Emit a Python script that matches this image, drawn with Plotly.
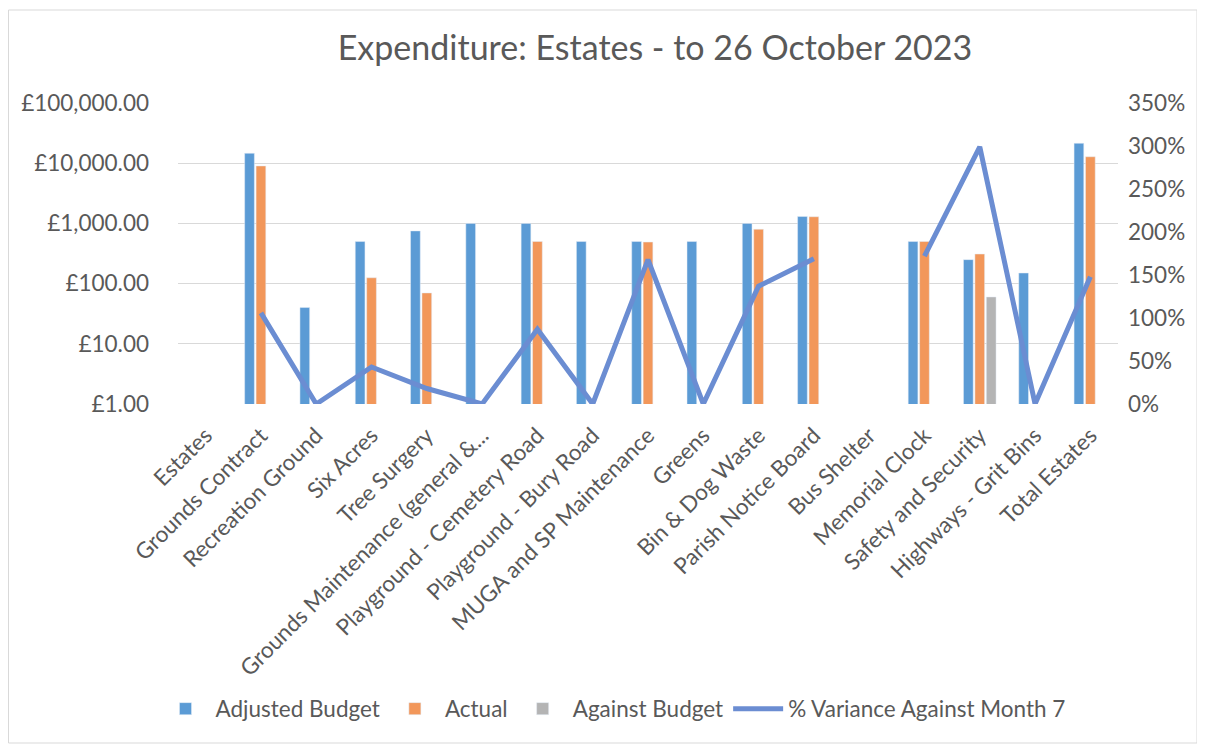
import plotly.graph_objects as go

categories = ["Estates", "Grounds Contract", "Recreation Ground", "Six Acres", "Tree Surgery",
              "Grounds Maintenance (general &...", "Playground - Cemetery Road", "Playground - Bury Road",
              "MUGA and SP Maintenance", "Greens", "Bin & Dog Waste", "Parish Notice Board",
              "Bus Shelter", "Memorial Clock", "Safety and Security", "Highways - Grit Bins",
              "Total Estates"]
adjusted_budget = [None, 14600, 40, 500, 750, 1000, 1000, 500, 500, 500, 1000, 1300, None, 500, 250, 150, 21400]
actual = [None, 9000, None, 125, 70, None, 500, None, 490, None, 800, 1290, None, 500, 310, None, 12800]
against_budget = [None, None, None, None, None, None, None, None, None, None, None, None, None, None, 60, None, None]
pct_variance = [None, 1.06, 0.0, 0.43, 0.18, 0.0, 0.87, 0.0, 1.68, 0.0, 1.37, 1.69, None, 1.72, 2.99, 0.0, 1.48]

left_tickvals = [1, 10, 100, 1000, 10000, 100000]
left_ticktext = ["£1.00", "£10.00", "£100.00", "£1,000.00", "£10,000.00", "£100,000.00"]
right_tickvals = [0, 0.5, 1.0, 1.5, 2.0, 2.5, 3.0, 3.5]

FONT = "Lato"
TXT = "#595959"
OFF = 8  # page body margin offset
TS = 22.5

fig = go.Figure()
fig.add_trace(go.Bar(x=categories, y=adjusted_budget, name="Adjusted Budget", marker_color="#5B9BD5"))
fig.add_trace(go.Bar(x=categories, y=actual, name="Actual", marker_color="#F2975A"))
fig.add_trace(go.Bar(x=categories, y=against_budget, name="Against Budget", marker_color="#B4B4B4"))
fig.add_trace(go.Scatter(x=categories, y=pct_variance, name="% Variance Against Month 7", mode="lines",
                         line=dict(color="#6B8DD2", width=5), yaxis="y2", connectgaps=False))

W, H = 1205, 744
L = 178 - OFF
T = 103 - OFF
R = W - (1118 - OFF)
B = H - (404 - OFF)
pw, ph = W - L - R, H - T - B

def py(page_y):
    return (T + ph - (page_y - OFF)) / ph

def px(page_x):
    return (page_x - OFF - L) / pw

fig.update_layout(
    width=W, height=H,
    margin=dict(l=L, r=R, t=T, b=B, autoexpand=False),
    paper_bgcolor="white", plot_bgcolor="white",
    font=dict(family=FONT, color=TXT, size=TS),
    title=dict(text="Expenditure: Estates - to 26 October 2023", x=(655 - OFF) / W, xanchor="center",
               y=1 - (48 - OFF) / H, yanchor="middle", font=dict(size=34, color=TXT, family=FONT)),
    barmode="group", bargap=0.38, bargroupgap=0.15,
    xaxis=dict(type="category", tickangle=-45, showgrid=False, showline=False, ticks="",
               ticklabelstandoff=13, tickfont=dict(size=TS, color=TXT)),
    yaxis=dict(type="log", range=[0, 5], tickvals=left_tickvals, ticktext=left_ticktext,
               showgrid=True, gridcolor="#D9D9D9", gridwidth=1, zeroline=False, showline=False,
               ticks="", ticklabelstandoff=28, tickfont=dict(size=TS, color=TXT)),
    yaxis2=dict(overlaying="y", side="right", range=[0, 3.5], tickvals=right_tickvals, tickformat=".0%",
                showgrid=False, zeroline=False, showline=False, ticks="", ticklabelstandoff=9,
                tickfont=dict(size=TS, color=TXT)),
    legend=dict(orientation="h", x=px(613), xanchor="center", y=py(709), yanchor="middle",
                font=dict(size=TS, color=TXT), itemwidth=50, traceorder="normal"),
    showlegend=True,
)

fig.add_shape(type="rect", xref="paper", yref="paper",
              x0=(0.5 - L) / pw, x1=(1197 - OFF - L) / pw, y0=py(743), y1=py(10),
              line=dict(color="#D9D9D9", width=1), fillcolor="rgba(0,0,0,0)", layer="below")

fig.write_html("out.html")
